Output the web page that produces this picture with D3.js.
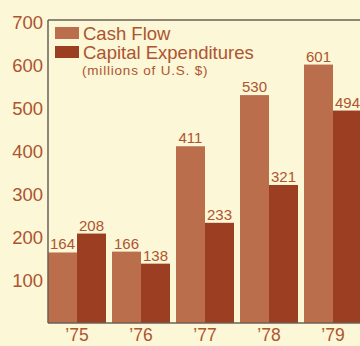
<!DOCTYPE html>
<html>
<head>
<meta charset="utf-8">
<script src="https://cdn.jsdelivr.net/npm/d3@7"></script>
<style>
  html, body { margin: 0; padding: 0; background: #fcf7d6; }
  svg { display: block; font-family: "Liberation Sans", Arial, sans-serif; }
</style>
</head>
<body>
<svg id="chart" width="360" height="346"></svg>
<script>
// Cash flow vs. capital expenditures, millions of U.S. $
const years = ["’75", "’76", "’77", "’78", "’79"];
const cashFlow = [164, 166, 411, 530, 601];
const capitalExpenditures = [208, 138, 233, 321, 494];
const yTicks = [100, 200, 300, 400, 500, 600, 700];
const seriesNames = ["Cash Flow", "Capital Expenditures"];

const colors = { "Cash Flow": "#ba6e4b", "Capital Expenditures": "#9c3e21" };
const textColor = "#ad5431";
const frameColor = "#6c6058";

const svg = d3.select("#chart");
const W = 360;
const plotLeft = 48, plotBottom = 323, plotTop = 20;

const x = d3.scaleBand().domain(years).range([plotLeft, 362]).paddingInner(6 / 64).paddingOuter(0);
const xInner = d3.scaleBand().domain(seriesNames).range([0, x.bandwidth()]).padding(0);
const y = d3.scaleLinear().domain([0, 700]).range([plotBottom, 22]);

const rows = years.map((yr, i) => ({
  year: yr,
  values: [
    { key: "Cash Flow", value: cashFlow[i] },
    { key: "Capital Expenditures", value: capitalExpenditures[i] }
  ]
}));

// bars
const groups = svg.append("g").selectAll("g").data(rows).join("g")
  .attr("transform", d => `translate(${x(d.year)},0)`);

groups.selectAll("rect").data(d => d.values).join("rect")
  .attr("x", d => xInner(d.key))
  .attr("y", d => y(d.value))
  .attr("width", xInner.bandwidth())
  .attr("height", d => y(0) - y(d.value))
  .attr("fill", d => colors[d.key]);

// value labels
groups.selectAll("text").data(d => d.values).join("text")
  .attr("x", d => xInner(d.key) + xInner.bandwidth() / 2)
  .attr("y", d => y(d.value) - 3)
  .attr("text-anchor", "middle")
  .attr("font-size", 15)
  .attr("fill", textColor)
  .text(d => d.value);

// frame: left axis, top rule, baseline
const frame = svg.append("g").attr("stroke", frameColor).attr("stroke-width", 1.5).attr("fill", "none");
frame.append("line").attr("x1", plotLeft).attr("x2", plotLeft).attr("y1", plotTop).attr("y2", plotBottom);
frame.append("line").attr("x1", plotLeft).attr("x2", W).attr("y1", plotTop).attr("y2", plotTop);
frame.append("line").attr("x1", plotLeft).attr("x2", W).attr("y1", plotBottom).attr("y2", plotBottom);

// y axis labels
const yAxis = d3.axisLeft(y).tickValues(yTicks).tickSize(0).tickPadding(5);
const yg = svg.append("g").attr("transform", `translate(${plotLeft},0)`).call(yAxis);
yg.select(".domain").remove();
yg.selectAll("text")
  .attr("font-size", 18.5)
  .attr("font-family", "Liberation Sans, Arial, sans-serif")
  .attr("fill", textColor)
  .attr("dy", "0.36em");

// x axis labels
const xAxis = d3.axisBottom(x).tickSize(0).tickPadding(6);
const xg = svg.append("g").attr("transform", `translate(0,${plotBottom})`).call(xAxis);
xg.select(".domain").remove();
xg.selectAll("text")
  .attr("font-size", 17.5)
  .attr("font-family", "Liberation Sans, Arial, sans-serif")
  .attr("fill", textColor);

// legend
const legend = svg.append("g");
const legendRows = [
  { key: "Cash Flow", sy: 27, ty: 40 },
  { key: "Capital Expenditures", sy: 46, ty: 59 }
];
legendRows.forEach(r => {
  legend.append("rect").attr("x", 55).attr("y", r.sy).attr("width", 24).attr("height", 12)
    .attr("fill", colors[r.key]);
  legend.append("text").attr("x", 83).attr("y", r.ty)
    .attr("font-size", 18.5).attr("fill", textColor).text(r.key);
});
legend.append("text").attr("x", 82).attr("y", 75)
  .attr("font-size", 13.5).attr("letter-spacing", 0.8).attr("fill", textColor).text("(millions of U.S. $)");
</script>
</body>
</html>
